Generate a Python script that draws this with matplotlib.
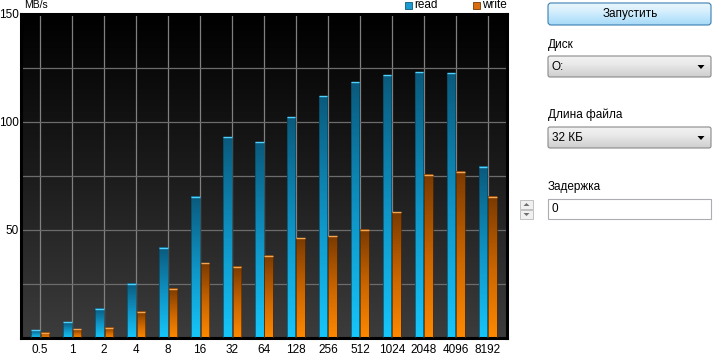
import numpy as np
import matplotlib.pyplot as plt
from matplotlib.colors import LinearSegmentedColormap
from matplotlib.patches import Rectangle, FancyBboxPatch, Polygon

plt.rcParams['font.family'] = ['Liberation Sans', 'DejaVu Sans']

# block sizes, KB
sizes = ["0.5", "1", "2", "4", "8", "16", "32", "64", "128", "256", "512",
         "1024", "2048", "4096", "8192"]
# MB/s
read = [3.5, 7.2, 13.5, 25.2, 41.7, 65.3, 92.9, 90.7, 102.3, 111.9, 118.5,
        121.6, 123.1, 122.6, 79.3]
write = [2.4, 4.0, 4.8, 12.2, 22.8, 34.7, 32.9, 38.0, 46.2, 47.2, 50.0,
         58.3, 75.5, 76.9, 65.4]
y_ticks = [50, 100, 150]

W, H = 718, 358
fig = plt.figure(figsize=(W / 100, H / 100), dpi=100)
fig.patch.set_facecolor("white")

ax = fig.add_axes([21 / W, 20 / H, 486 / W, 324 / H])
xmin, xmax = -0.6, 14.6
ymin, ymax = 0, 150

# dark background gradient
bg = LinearSegmentedColormap.from_list("bg", ["#3c3c3c", "#1c1c1c", "#000000"])
ax.imshow(np.linspace(0, 1, 256).reshape(-1, 1), extent=[xmin, xmax, ymin, ymax],
          origin="lower", aspect="auto", cmap=bg, zorder=0)

# grid
for i in range(len(sizes)):
    ax.axvline(i, color="#808080", lw=0.9, zorder=1)
for v in range(25, 150, 25):
    ax.axhline(v, color="#6c6c6c", lw=0.9, zorder=1)

cm_read = LinearSegmentedColormap.from_list("r", ["#17c6fa", "#0f93c4", "#0a5a7c"])
cm_write = LinearSegmentedColormap.from_list("w", ["#ff8a00", "#c86400", "#7a3a02"])

x = np.arange(len(sizes))
bw = 0.27
off = 0.15
grad = np.linspace(0, 1, 128).reshape(-1, 1)
for vals, shift, cmap, top_c, edge_c in [
        (read, -off, cm_read, "#4fd2ff", "#07465f"),
        (write, off, cm_write, "#f5a650", "#5a2a00")]:
    bars = ax.bar(x + shift, vals, width=bw, facecolor="none",
                  edgecolor=edge_c, lw=0.5, zorder=3)
    for b in bars:
        x0, h = b.get_x(), b.get_height()
        ax.imshow(grad, extent=[x0, x0 + bw, 0, h], origin="lower",
                  aspect="auto", cmap=cmap, zorder=2)
        ax.plot([x0, x0 + bw], [h, h], color=top_c, lw=1.0, zorder=4,
                solid_capstyle="butt")

ax.set_xlim(xmin, xmax)
ax.set_ylim(ymin, ymax)
ax.set_xticks(x)
ax.set_xticklabels(sizes)
ax.set_yticks(y_ticks)
ax.tick_params(length=0, labelsize=8.5, colors="black", pad=4)
ax.tick_params(axis="y", pad=1.5, labelsize=8.5)
for s in ax.spines.values():
    s.set_color("black")
    s.set_linewidth(2.2)

# overlay in pixel coordinates for headings, legend and controls
ui = fig.add_axes([0, 0, 1, 1], zorder=5)
ui.set_xlim(0, W)
ui.set_ylim(H, 0)
ui.axis("off")
ui.patch.set_alpha(0)

ui.text(24, 5, "MB/s", fontsize=7.5, va="center", ha="left")
ui.add_patch(Rectangle((405, 2), 7, 7, facecolor="#1a9ad0", edgecolor="#0a5a7c", lw=0.6))
ui.text(414, 5, "read", fontsize=8.5, va="center", ha="left")
ui.add_patch(Rectangle((473, 2), 7, 7, facecolor="#d86e10", edgecolor="#7a3a02", lw=0.6))
ui.text(482, 5, "write", fontsize=8.5, va="center", ha="left")


def gradient_box(x0, y0, w, h, colors, edge, rounding=3):
    box = FancyBboxPatch((x0, y0), w, h, boxstyle=f"round,pad=0,rounding_size={rounding}",
                         facecolor="none", edgecolor=edge, lw=0.8, zorder=3)
    ui.add_patch(box)
    cm = LinearSegmentedColormap.from_list("g", colors)
    im = ui.imshow(np.linspace(0, 1, 64).reshape(-1, 1), extent=[x0, x0 + w, y0 + h, y0],
                   origin="upper", aspect="auto", cmap=cm, zorder=2)
    im.set_clip_path(box)


def arrow_down(cx, cy):
    ui.add_patch(Polygon([[cx - 3.5, cy - 2], [cx + 3.5, cy - 2], [cx, cy + 2]],
                         closed=True, facecolor="black", edgecolor="none", zorder=4))


# start button
gradient_box(548, 3, 163, 22, ["#eaf6fd", "#d9f0fc", "#bee6fd", "#a7d9f5"], "#3c7fb1")
ui.text(630, 14, "Запустить", fontsize=8.5, ha="center", va="center", zorder=4)

# disk
ui.text(548, 45, "Диск", fontsize=8.5, ha="left", va="center")
gradient_box(548, 56, 163, 21, ["#f2f2f2", "#ebebeb", "#dddddd", "#cfcfcf"], "#8a8a8a", 2)
ui.text(552, 67, "O:", fontsize=8.5, ha="left", va="center", zorder=4)
arrow_down(701, 67)

# file length
ui.text(548, 115, "Длина файла", fontsize=8.5, ha="left", va="center")
gradient_box(548, 127, 163, 21, ["#f2f2f2", "#ebebeb", "#dddddd", "#cfcfcf"], "#8a8a8a", 2)
ui.text(552, 138, "32 КБ", fontsize=8.5, ha="left", va="center", zorder=4)
arrow_down(701, 138)

# delay
ui.text(548, 187, "Задержка", fontsize=8.5, ha="left", va="center")
ui.add_patch(Rectangle((548, 199), 163, 20, facecolor="white", edgecolor="#abadb3", lw=0.8))
ui.text(552, 209, "0", fontsize=8.5, ha="left", va="center")
for yy, up in [(200, True), (210, False)]:
    ui.add_patch(Rectangle((520, yy), 13, 9, facecolor="#f0f0f0", edgecolor="#b8b8b8", lw=0.6))
    cx, cy = 526.5, yy + 4.5
    pts = [[cx - 3, cy + 1.5], [cx + 3, cy + 1.5], [cx, cy - 1.5]] if up else \
          [[cx - 3, cy - 1.5], [cx + 3, cy - 1.5], [cx, cy + 1.5]]
    ui.add_patch(Polygon(pts, closed=True, facecolor="#707070", edgecolor="none"))

fig.savefig("out.png", dpi=100)
